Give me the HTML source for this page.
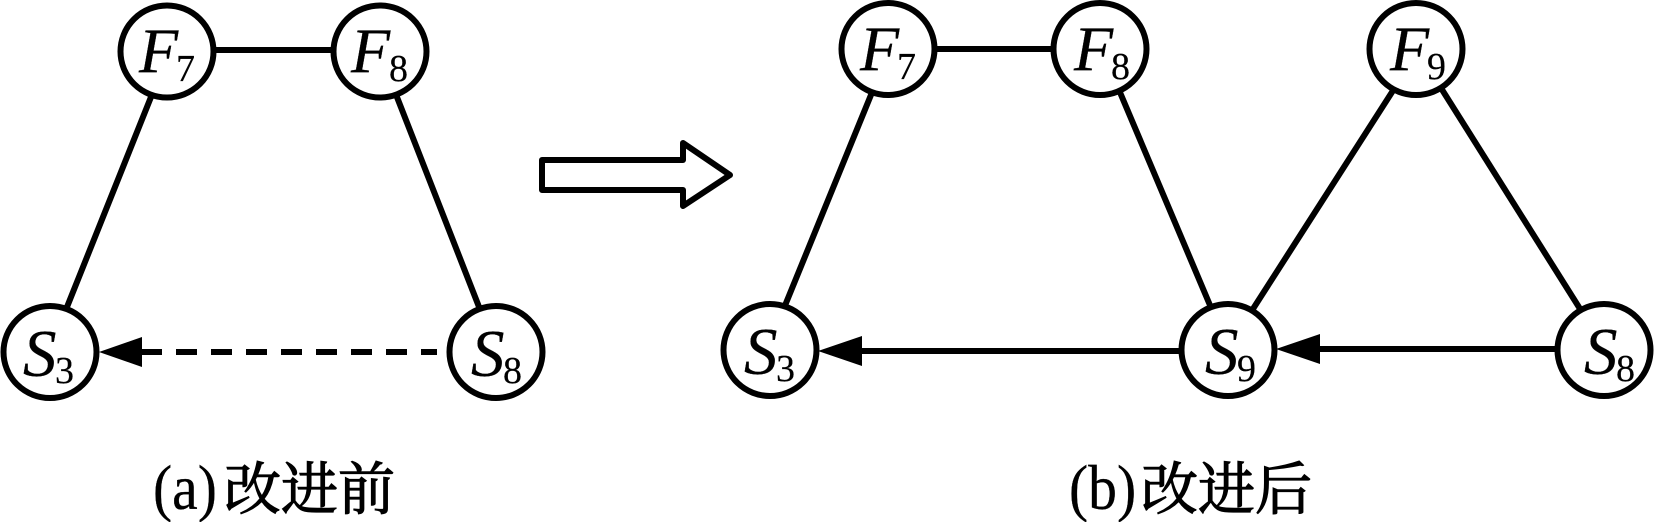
<!DOCTYPE html>
<html><head><meta charset="utf-8"><style>
html,body{margin:0;padding:0;background:#fff;width:1654px;height:522px;overflow:hidden}
svg{display:block}
.f{font-family:"Liberation Serif",serif;font-style:italic;font-size:64px;fill:#000;stroke:#000;stroke-width:.3}
.g{font-family:"Liberation Serif",serif;font-style:italic;font-size:67px;fill:#000;stroke:#000;stroke-width:.3}
.s{font-family:"Liberation Serif",serif;font-size:38px;fill:#000;stroke:#000;stroke-width:.2}
.l{font-family:"Liberation Serif",serif;font-size:64px;fill:#000;stroke:#000;stroke-width:.3}
.c{font-family:"Liberation Serif","Noto Serif CJK SC",serif;font-size:57px;fill:#000;stroke:#000;stroke-width:1.2}
</style></head><body>
<svg width="1654" height="522" viewBox="0 0 1654 522" xmlns="http://www.w3.org/2000/svg">
<g stroke="#000" stroke-width="6" fill="none">
<line x1="167" y1="50" x2="380" y2="50"/>
<line x1="153" y1="92" x2="65" y2="312"/>
<line x1="395" y1="92" x2="481" y2="312"/>
<line x1="141" y1="352" x2="437" y2="352" stroke-dasharray="21 14"/>
<line x1="888" y1="49" x2="1100" y2="49"/>
<line x1="873" y1="90" x2="784" y2="308"/>
<line x1="1119" y1="90" x2="1212" y2="310"/>
<line x1="1394" y1="89" x2="1251" y2="312"/>
<line x1="1441" y1="88" x2="1582" y2="312"/>
<line x1="862" y1="351" x2="1180" y2="351"/>
<line x1="1320" y1="349" x2="1557" y2="349"/>
</g>
<g fill="#000">
<polygon points="99,352 142,337 142,367"/>
<polygon points="818,351 862,336 862,366"/>
<polygon points="1276,349 1320,334 1320,364"/>
</g>
<polygon points="542,160 683,160 683,143 730,175 683,206 683,190 542,190" fill="#fff" stroke="#000" stroke-width="6" stroke-linejoin="round"/>
<g fill="#fff" stroke="#000" stroke-width="6">
<ellipse cx="167" cy="51.5" rx="46.5" ry="46"/>
<ellipse cx="380" cy="51.5" rx="46.5" ry="46"/>
<ellipse cx="50" cy="352" rx="46.5" ry="46"/>
<ellipse cx="496" cy="352" rx="46.5" ry="46"/>
<ellipse cx="888" cy="49" rx="46.5" ry="46"/>
<ellipse cx="1100" cy="49" rx="46.5" ry="46"/>
<ellipse cx="1416" cy="49" rx="46.5" ry="46"/>
<ellipse cx="770" cy="350" rx="46.5" ry="46"/>
<ellipse cx="1228" cy="350" rx="46.5" ry="46"/>
<ellipse cx="1604" cy="350" rx="46.5" ry="46"/>
</g>
<text class="f" x="139" y="72">F</text><text class="s" x="176" y="81">7</text>
<text class="f" x="351" y="72">F</text><text class="s" x="389" y="81">8</text>
<text class="g" x="23" y="376">S</text><text class="s" x="55" y="383">3</text>
<text class="g" x="471" y="376">S</text><text class="s" x="503" y="383">8</text>
<text class="f" x="860" y="70">F</text><text class="s" x="897" y="79">7</text>
<text class="f" x="1074" y="70">F</text><text class="s" x="1111" y="79">8</text>
<text class="f" x="1390" y="70">F</text><text class="s" x="1427" y="79">9</text>
<text class="g" x="744" y="374">S</text><text class="s" x="776" y="381">3</text>
<text class="g" x="1205" y="374">S</text><text class="s" x="1237" y="381">9</text>
<text class="g" x="1584" y="374">S</text><text class="s" x="1616" y="381">8</text>
<text class="l" transform="translate(153,509) scale(.9,1)">(a)</text><text class="c" x="224" y="509">改进前</text>
<text class="l" transform="translate(1069,509) scale(.9,1)">(b)</text><text class="c" x="1141" y="509">改进后</text>
</svg>
</body></html>
